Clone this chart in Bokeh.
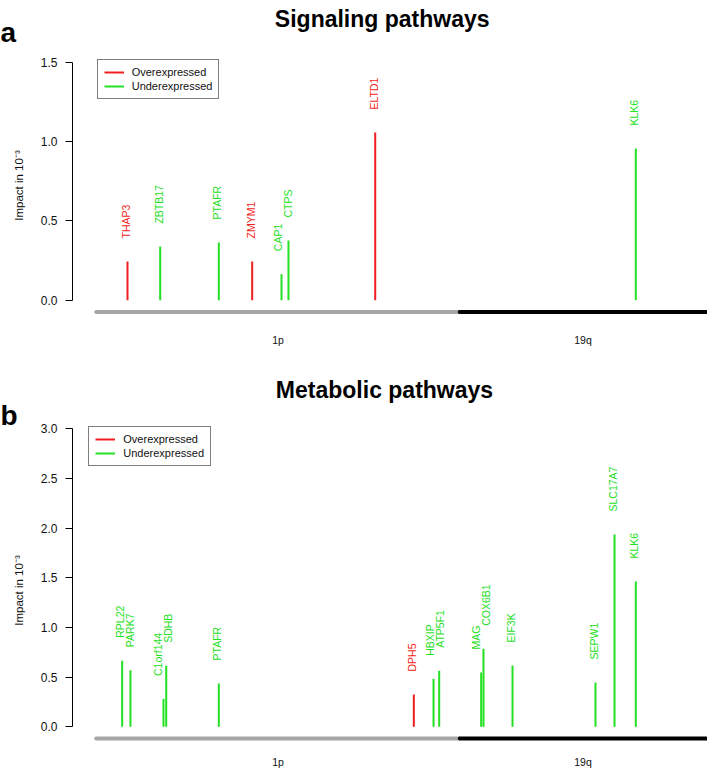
import math
from bokeh.plotting import figure
from bokeh.models import (FixedTicker, Legend, LegendItem, ColumnDataSource,
                          Range1d, PrintfTickFormatter)
from bokeh.layouts import column, row
from bokeh.embed import file_html
from bokeh.resources import INLINE
from bokeh.core.properties import value

# ------------------------------------------------------------------ data
# chromosome arms shown along the bottom (position units along the region)
arm_names = ["1p", "19q"]
arm_start = [0.0, 59.6]
arm_end = [59.6, 100.0]
arm_colors = ["#A6A6A6", "#000000"]

# panel a: signaling pathways
sig_genes = ["THAP3", "ZBTB17", "PTAFR", "ZMYM1", "CAP1", "CTPS", "ELTD1", "KLK6"]
sig_pos = [5.13, 10.49, 20.10, 25.57, 30.38, 31.52, 45.74, 88.46]
sig_impact = [0.244, 0.338, 0.364, 0.244, 0.164, 0.376, 1.057, 0.956]
sig_dir = ["over", "under", "under", "over", "under", "under", "over", "under"]
sig_ticks = [0.0, 0.5, 1.0, 1.5]

# panel b: metabolic pathways
met_genes = ["RPL22", "PARK7", "C1orf144", "SDHB", "PTAFR", "DPH5", "HBXIP", "ATP5F1",
             "MAG", "COX6B1", "EIF3K", "SEPW1", "SLC17A7", "KLK6"]
met_pos = [4.26, 5.62, 11.03, 11.48, 20.10, 52.07, 55.30, 56.23,
           63.11, 63.49, 68.25, 81.85, 84.97, 88.46]
met_impact = [0.665, 0.57, 0.28, 0.614, 0.436, 0.325, 0.483, 0.564,
              0.547, 0.785, 0.617, 0.446, 1.936, 1.463]
met_dir = ["under", "under", "under", "under", "under", "over", "under", "under",
           "under", "under", "under", "under", "under", "under"]
met_ticks = [0.0, 0.5, 1.0, 1.5, 2.0, 2.5, 3.0]

legend_labels = ["Overexpressed", "Underexpressed"]
y_label = "Impact in 10\u207b\u00b3"

# ------------------------------------------------------------------ layout / style
RED = "#F01E22"
GREEN = "#22E022"
COLORS = {"over": RED, "under": GREEN}
FONT = "Liberation Sans"
WIDTH = 707        # page width
LW = 35            # width of the left strip holding panel letter and y label
AXIS_X = 72        # page x of the y axis line
X0 = 95.7          # page x of position 0
SX = 6.1           # px per position unit


def make_panel(letter, title, genes, pos, impact, direction, ticks, height,
               zero_px, top_px, title_base, title_cx, letter_base, ylab_cy,
               legend_box, chr_off):
    ymax = ticks[-1]
    sy = (zero_px - top_px) / ymax
    y_end = ymax + top_px / sy
    y_start = -(height - zero_px) / sy
    x_start = (AXIS_X - X0) / SX
    x_end = (WIDTH - X0) / SX

    def px2x(px):
        return x_start + (px - AXIS_X) / SX

    def px2y(py):
        return y_end - py / sy

    # ---- left strip: panel letter + y axis title
    left = figure(width=LW, height=height, x_range=Range1d(0, LW),
                  y_range=Range1d(height, 0), output_backend="svg",
                  toolbar_location=None, x_axis_location=None, y_axis_location=None,
                  title=None, min_border=0)
    left.outline_line_color = None
    left.grid.visible = False
    left.text(x=[0], y=[letter_base], text=[letter], text_align="left",
              text_baseline="alphabetic", text_font=value(FONT),
              text_font_size="28px", text_font_style="bold", text_color="black")
    left.text(x=[18], y=[ylab_cy], text=[y_label], angle=math.pi / 2,
              text_align="center", text_baseline="middle", text_font=value(FONT),
              text_font_size="11.5px", text_color="#111111")

    # ---- main plot
    p = figure(width=WIDTH - LW, height=height, x_range=Range1d(x_start, x_end),
               y_range=Range1d(y_start, y_end), output_backend="svg",
               toolbar_location=None, x_axis_location=None, title=None,
               min_border_left=AXIS_X - LW, min_border_right=0,
               min_border_top=0, min_border_bottom=0)
    p.outline_line_color = None
    p.xgrid.visible = False
    p.ygrid.visible = False

    ax = p.yaxis[0]
    ax.ticker = FixedTicker(ticks=ticks)
    ax.bounds = (0, ymax)
    ax.formatter = PrintfTickFormatter(format="%.1f")
    ax.major_tick_out = 7
    ax.major_tick_in = 0
    ax.minor_tick_out = 0
    ax.minor_tick_in = 0
    ax.major_label_standoff = 8
    ax.major_label_text_font = FONT
    ax.major_label_text_font_size = "12px"
    ax.major_label_text_color = "#111111"
    ax.axis_line_color = "black"
    ax.major_tick_line_color = "black"

    # chromosome bar and arm names
    bar_y = -11.8 / sy
    p.segment(x0=arm_start, y0=bar_y, x1=arm_end, y1=bar_y,
              line_color=arm_colors, line_width=4, line_cap="round")
    mids = [(a + b) / 2 for a, b in zip(arm_start, arm_end)]
    p.text(x=mids, y=0, text=arm_names, y_offset=chr_off, text_align="center",
           text_baseline="alphabetic", text_font_size="10.5px",
           text_font=value(FONT), text_color="#111111")

    # gene label spreading (pixels) so close neighbours do not collide
    bar_px = [X0 + v * SX for v in pos]
    order = sorted(range(len(pos)), key=lambda i: pos[i])
    centers = {i: bar_px[i] - 1.5 for i in order}
    min_sep = 10.0
    for _ in range(5):
        for a, b in zip(order[:-1], order[1:]):
            gap = centers[b] - centers[a]
            if gap < min_sep:
                sh = (min_sep - gap) / 2
                centers[a] -= sh
                centers[b] += sh
    dx = [centers[i] - bar_px[i] for i in range(len(pos))]

    renderers = {}
    for d in ("over", "under"):
        idx = [i for i in range(len(pos)) if direction[i] == d]
        src = ColumnDataSource(dict(x=[pos[i] for i in idx],
                                    y=[impact[i] for i in idx],
                                    gene=[genes[i] for i in idx],
                                    dx=[dx[i] for i in idx]))
        renderers[d] = p.segment(x0="x", y0=0, x1="x", y1="y", source=src,
                                 line_color=COLORS[d], line_width=2)
        p.text(x="x", y="y", text="gene", source=src, angle=math.pi / 2,
               x_offset="dx", y_offset=-23, text_align="left",
               text_baseline="middle", text_color=COLORS[d],
               text_font_size="10.5px", text_font=value(FONT))

    # title
    p.text(x=[px2x(title_cx)], y=[px2y(title_base)], text=[title],
           text_align="center", text_baseline="alphabetic", text_font=value(FONT),
           text_font_size="23px", text_font_style="bold", text_color="black")

    # legend
    lx, ltop, lbottom = legend_box
    leg = Legend(items=[LegendItem(label=legend_labels[0], renderers=[renderers["over"]]),
                        LegendItem(label=legend_labels[1], renderers=[renderers["under"]])],
                 location=(lx - AXIS_X, height - lbottom), border_line_color="black",
                 border_line_width=1, background_fill_color="white",
                 background_fill_alpha=1.0, padding=6, spacing=2, margin=0,
                 glyph_width=20, glyph_height=12, label_height=12,
                 label_standoff=8, label_text_font=FONT,
                 label_text_font_size="11px", label_text_color="#111111")
    p.add_layout(leg)
    return row(left, p, spacing=0)


H1 = 348
H2 = 421
OFF2 = H1   # page y where panel b starts
r1 = make_panel("a", "Signaling pathways", sig_genes, sig_pos, sig_impact, sig_dir,
                sig_ticks, H1, zero_px=299.7, top_px=61.7, title_base=18.3,
                title_cx=381.7, letter_base=32.3, ylab_cy=185,
                legend_box=(96.7, 61.7, 99.3), chr_off=40)
r2 = make_panel("b", "Metabolic pathways", met_genes, met_pos, met_impact, met_dir,
                met_ticks, H2, zero_px=726.3 - OFF2, top_px=428.3 - OFF2,
                title_base=389 - OFF2, title_cx=384, letter_base=415 - OFF2,
                ylab_cy=590 - OFF2, legend_box=(88.3, 428.3 - OFF2, 466 - OFF2),
                chr_off=35)

layout = column(r1, r2, spacing=0)
open("out.html", "w").write(file_html(layout, INLINE))
